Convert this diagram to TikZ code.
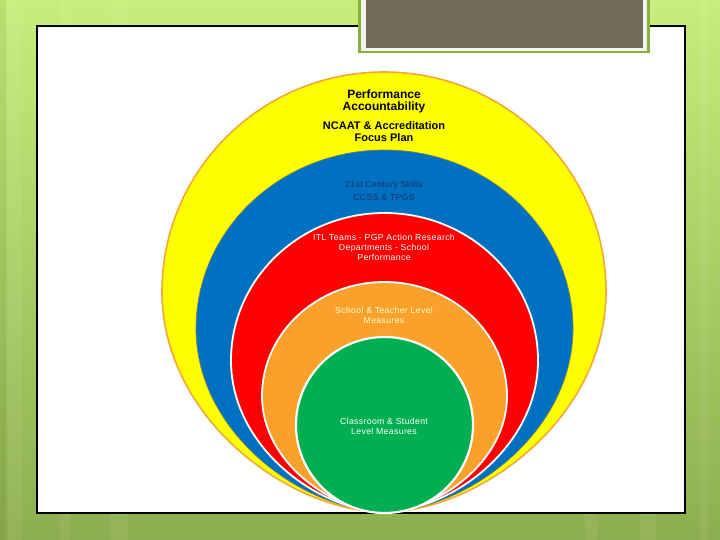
\documentclass[tikz,border=0pt]{standalone}
\usepackage{fontspec}
\setmainfont{Liberation Sans}
\newfontfamily\smallsans[LetterSpace=4]{Liberation Sans}
\usetikzlibrary{shapes.geometric}
\definecolor{bgtop}{HTML}{C6EE7A}
\definecolor{bgbot}{HTML}{8DAE50}
\definecolor{boxgreen}{HTML}{86B13A}
\definecolor{boxwhite}{HTML}{F3F4EF}
\definecolor{boxbrown}{HTML}{73695A}
\definecolor{ringyellow}{HTML}{FFFF00}
\definecolor{ringedge}{HTML}{F0A838}
\definecolor{ringblue}{HTML}{0070C0}
\definecolor{blueedge}{HTML}{7E8450}
\definecolor{ringred}{HTML}{FF0000}
\definecolor{ringorange}{HTML}{F9A12B}
\definecolor{ringgreen}{HTML}{00B050}
\definecolor{navytext}{HTML}{1F2D6A}
\definecolor{paletext}{HTML}{FFFFC8}
% closed ring outline: centre x, centre y, half width, half height (top), bottom y
\newcommand\ringshape[5]{%
 (#1-#3,#2) .. controls (#1-#3,#2-0.552*#4) and (#1-0.552*#3,#2-#4) .. (#1,#2-#4)
 .. controls (#1+0.552*#3,#2-#4) and (#1+#3,#2-0.552*#4) .. (#1+#3,#2)
 .. controls (#1+#3,#2+0.58*#5-0.58*#2) and (#1+0.42*#3,#5) .. (#1,#5)
 .. controls (#1-0.42*#3,#5) and (#1-#3,#2+0.58*#5-0.58*#2) .. cycle}
\begin{document}
\begin{tikzpicture}[x=1pt,y=-1pt,
  bigbold/.style={align=center, font=\fontsize{12}{12}\selectfont\bfseries},
  midbold/.style={align=center, font=\fontsize{11}{12}\selectfont\bfseries},
  smalltext/.style={align=center, font=\fontsize{8.7}{9.8}\smallsans}]
\useasboundingbox (0,0) rectangle (720,540);
% background
\shade[top color=bgtop, bottom color=bgbot] (0,0) rectangle (720,540);
\foreach \sx/\sw in {8/14, 60/10, 110/18, 585/12, 640/16, 700/8}
  \fill[white, opacity=0.06] (\sx,0) rectangle ++(\sw,540);
\fill[black, opacity=0.06] (0,0) rectangle (6,540);
% white panel
\node[draw=black, fill=white, line width=1.2pt, inner sep=0pt, minimum width=648pt, minimum height=487pt] (panel) at (361,269.5) {};
% title box
\fill[boxgreen] (358,-2) rectangle (650,53);
\fill[boxwhite] (361,-2) rectangle (647,51);
\node[fill=boxbrown, inner sep=0pt, minimum width=277pt, minimum height=50pt] (titlebox) at (504.5,23) {};
% rings
\filldraw[fill=ringyellow, draw=ringedge, line width=1.6pt] \ringshape{384}{291.5}{222}{219.5}{512};
\filldraw[fill=ringblue, draw=blueedge, line width=0.7pt] \ringshape{384.5}{328.5}{188.5}{178.5}{511.5};
\filldraw[fill=ringred, draw=white, line width=1.8pt] \ringshape{384.5}{360.5}{153.5}{147.5}{511.5};
\filldraw[fill=ringorange, draw=white, line width=1.8pt] \ringshape{384.5}{396}{122.5}{114}{511.5};
\node[ellipse, inner sep=0pt, draw=white, line width=2.2pt, fill=ringgreen, minimum width=177pt, minimum height=176pt] (green) at (384.5,425) {};
% texts
\node[bigbold] (perf) at (384,101) {Performance\\Accountability};
\node[midbold] (ncaat) at (384,132) {NCAAT \& Accreditation\\Focus Plan};
\node[smalltext, text=navytext, font=\fontsize{8.7}{13}\smallsans] (skills) at (384,190.5) {21st Century Skills\\CCSS \& TPGS};
\node[smalltext, text=white] (itl) at (384,247.5) {ITL Teams - PGP Action Research\\Departments - School\\Performance};
\node[smalltext, text=paletext] (school) at (384,315) {School \& Teacher Level\\Measures};
\node[smalltext, text=white] (class) at (384,426) {Classroom \& Student\\Level Measures};
\end{tikzpicture}
\end{document}
